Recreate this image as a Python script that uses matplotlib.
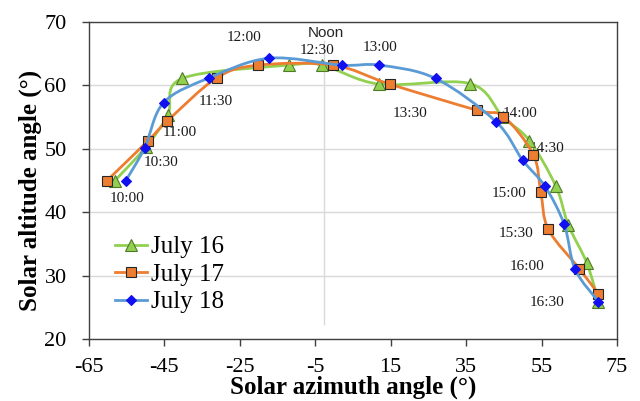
import numpy as np
import matplotlib
matplotlib.use("Agg")
import matplotlib.pyplot as plt
from matplotlib.path import Path
from matplotlib.patches import PathPatch
from matplotlib.lines import Line2D

# Sun position measured every half hour on three July days
horarios = ["10:00", "10:30", "11:00", "11:30", "12:00", "12:30", "13:00",
            "13:30", "14:00", "14:30", "15:00", "15:30", "16:00", "16:30"]

azimute_16 = [-58.1, -49.9, -44.1, -40.3, -12.0, -3.1, 12.0, 36.0, 44.8,
              51.8, 58.8, 62.1, 67.0, 70.1]
altura_16 = [45.0, 50.3, 55.3, 61.1, 63.2, 63.2, 60.2, 60.3, 55.0,
             51.3, 44.1, 38.0, 32.0, 25.9]

azimute_17 = [-60.2, -49.3, -44.2, -31.1, -20.1, -0.2, 14.8, 37.8, 44.9,
              52.8, 54.8, 56.8, 65.0, 70.1]
altura_17 = [45.0, 51.3, 54.4, 61.2, 63.2, 63.2, 60.2, 56.1, 55.1,
             49.1, 43.2, 37.3, 31.1, 27.1]

azimute_18 = [-55.2, -50.2, -45.2, -33.1, -17.2, 2.0, 12.0, 26.9, 42.9,
              50.0, 55.9, 61.0, 63.9, 70.1]
altura_18 = [45.0, 50.2, 57.3, 61.2, 64.3, 63.2, 63.2, 61.1, 54.3,
             48.2, 44.1, 38.1, 31.0, 25.9]

# where each time label sits (azimuth, altitude)
pos_horarios = [(-54.9, 42.2), (-45.9, 47.8), (-40.9, 52.5), (-31.4, 57.4),
                (-23.8, 67.6), (-4.4, 65.5), (12.2, 66.0), (20.1, 55.6),
                (49.3, 55.6), (56.5, 50.1), (46.4, 43.0), (48.2, 36.6),
                (51.1, 31.4), (56.5, 25.8)]

azimute_meio_dia = -2.6

plt.rcParams["font.family"] = ["Liberation Serif", "DejaVu Serif"]
plt.rcParams["axes.unicode_minus"] = False


def curva_suave(x, y):
    """Smoothed polyline (Catmull-Rom as cubic Bezier segments)."""
    pts = np.column_stack([x, y]).astype(float)
    n = len(pts)
    verts = [pts[0]]
    codes = [Path.MOVETO]
    for i in range(n - 1):
        p0 = pts[i - 1] if i > 0 else pts[i]
        p1, p2 = pts[i], pts[i + 1]
        p3 = pts[i + 2] if i + 2 < n else pts[i + 1]
        verts += [p1 + (p2 - p0) / 6, p2 - (p3 - p1) / 6, p2]
        codes += [Path.CURVE4] * 3
    return Path(verts, codes)


series = [
    ("July 16", azimute_16, altura_16, "#92D050", "^", "#92D050", "#4F7A28", 8),
    ("July 17", azimute_17, altura_17, "#ED7D31", "s", "#ED7D31", "#262626", 7),
    ("July 18", azimute_18, altura_18, "#5B9BD5", "D", "#1010F0", "#1010F0", 5.5),
]

fig = plt.figure(figsize=(6.4, 4.01), dpi=100)
ax = fig.add_axes([0.139, 0.1546, 0.825, 0.7904])

ax.set_xlim(-65, 75)
ax.set_ylim(20, 70)
ax.set_xticks(np.arange(-65, 76, 20))
ax.set_yticks(np.arange(20, 71, 10))
ax.yaxis.grid(True, color="#D9D9D9", linewidth=1)
ax.set_axisbelow(True)
ax.tick_params(direction="out", length=5, width=1, color="#404040",
               labelsize=16, labelcolor="#000000")
ax.tick_params(axis="x", pad=9)
ax.tick_params(axis="y", pad=11)
for lado in ax.spines.values():
    lado.set_color("#404040")
    lado.set_linewidth(1)

# solar noon marker
ax.plot([azimute_meio_dia, azimute_meio_dia], [22.3, 67.0], color="#D9D9D9",
        linewidth=1, zorder=1)
ax.text(azimute_meio_dia + 0.3, 68.3, "Noon", family="Liberation Sans",
        fontsize=11, color="#262626", ha="center", va="center", zorder=1)

for texto, (px, py) in zip(horarios, pos_horarios):
    ax.text(px, py, texto, fontsize=11, color="#1a1a1a", ha="center",
            va="center", zorder=1)

handles = []
for k, (nome, xs, ys, cor, marcador, face, borda, tam) in enumerate(series):
    z = 3 + k
    ax.add_patch(PathPatch(curva_suave(xs, ys), facecolor="none", edgecolor=cor,
                           linewidth=2, zorder=z, capstyle="round"))
    ax.plot(xs, ys, linestyle="none", marker=marcador, markersize=tam,
            markerfacecolor=face, markeredgecolor=borda, markeredgewidth=0.8,
            zorder=z + 0.5)
    handles.append(Line2D([], [], color=cor, linewidth=2, marker=marcador,
                          markersize=tam, markerfacecolor=face,
                          markeredgecolor=borda, markeredgewidth=0.8))

ax.legend(handles, [s[0] for s in series], loc="upper left",
          bbox_to_anchor=(0.049, 0.325), frameon=False, fontsize=18,
          handlelength=1.3, handletextpad=0.15, labelspacing=0.2,
          borderpad=0, borderaxespad=0)

ax.set_xlabel("Solar azimuth angle (°)", fontsize=18, fontweight="bold",
              va="center")
ax.xaxis.set_label_coords(0.5, -0.152)
ax.set_ylabel("Solar altitude angle (°)", fontsize=18, fontweight="bold",
              va="center")
ax.yaxis.set_label_coords(-0.112, 0.47)

fig.savefig("out.png", dpi=100)
